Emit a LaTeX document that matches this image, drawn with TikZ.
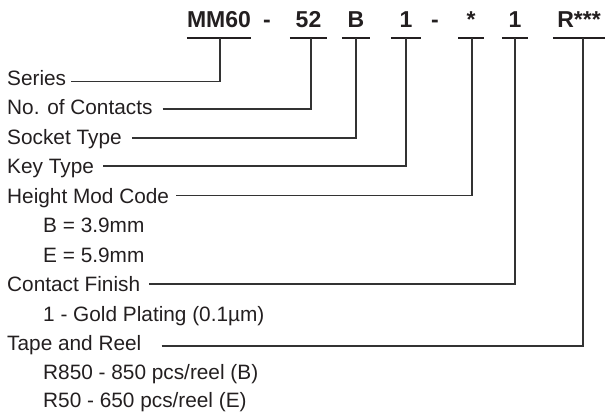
\documentclass[tikz,border=0pt]{standalone}
\usepackage{fontspec}
\setmainfont{Liberation Sans}
\definecolor{ink}{HTML}{231F20}
\begin{document}
\begin{tikzpicture}[x=1pt,y=-1pt,
  lbl/.style={anchor=base west,inner sep=0pt,text height=15pt,text depth=0pt,text=ink,
    font=\fontsize{20.8}{24}\selectfont},
  code/.style={anchor=south,inner xsep=0pt,inner ysep=10pt,text height=17pt,text depth=0pt,text=ink,
    font=\fontsize{23}{26}\selectfont\bfseries},
  dashtxt/.style={anchor=base,inner sep=0pt,text=ink,font=\fontsize{23}{26}\selectfont\bfseries},
  uline/.style={draw=ink,line width=2.2pt},
  conn/.style={draw=black!80,line width=1.1pt}]
\useasboundingbox (0,0) rectangle (605,412);
% part number codes
\node[code,minimum width=64pt] (mm)  at (219,38)   {MM60};
\node[dashtxt] (da) at (267,28) {-};
\node[code,minimum width=37pt] (nc)  at (308.5,38) {52};
\node[code,minimum width=28pt] (st)  at (356,38)   {B};
\node[code,minimum width=30pt] (kt)  at (406,38)   {1};
\node[dashtxt] (db) at (435,28) {-};
\node[code,minimum width=25pt] (hm)  at (471,38)   {*};
\node[code,minimum width=26pt] (cf)  at (515,38)   {1};
\node[code,minimum width=52pt] (tr)  at (579,38)   {R***};
\foreach \n in {mm,nc,st,kt,hm,cf,tr}
  \draw[uline] (\n.south west) -- (\n.south east);
% labels
\node[lbl] (series) at (7,85)    {Series};
\node[lbl] (noc)    at (7,114.5) {No. of Contacts};
\node[lbl] (sock)   at (7,144)   {Socket Type};
\node[lbl] (key)    at (7,173.5) {Key Type};
\node[lbl] (hmc)    at (7,203)   {Height Mod Code};
\node[lbl] (hb)     at (43,232.5) {B = 3.9mm};
\node[lbl] (he)     at (43,262)  {E = 5.9mm};
\node[lbl] (cfl)    at (7,291.5) {Contact Finish};
\node[lbl] (gold)   at (43,321)  {1 - Gold Plating (0.1µm)};
\node[lbl] (tape)   at (7,350.5) {Tape and Reel};
\node[lbl] (r850)   at (43,379.5) {R850 - 850 pcs/reel (B)};
\node[lbl] (r50)    at (43,407)  {R50 - 650 pcs/reel (E)};
% connectors
\draw[conn] ([xshift=5pt,yshift=-4pt]series.east) -| ([xshift=1pt]mm.south);
\draw[conn] ([xshift=10pt,yshift=-2pt]noc.east) -| ([xshift=2.5pt]nc.south);
\draw[conn] ([xshift=10pt,yshift=-1.5pt]sock.east) -| (st.south);
\draw[conn] ([xshift=9pt]key.east) -| (kt.south);
\draw[conn] ([xshift=7pt]hmc.east) -| ([xshift=1pt]hm.south);
\draw[conn] ([xshift=9pt]cfl.east) -| (cf.south);
\draw[conn] ([xshift=20pt,yshift=-3pt]tape.east) -| ([xshift=4pt]tr.south);
\end{tikzpicture}
\end{document}
